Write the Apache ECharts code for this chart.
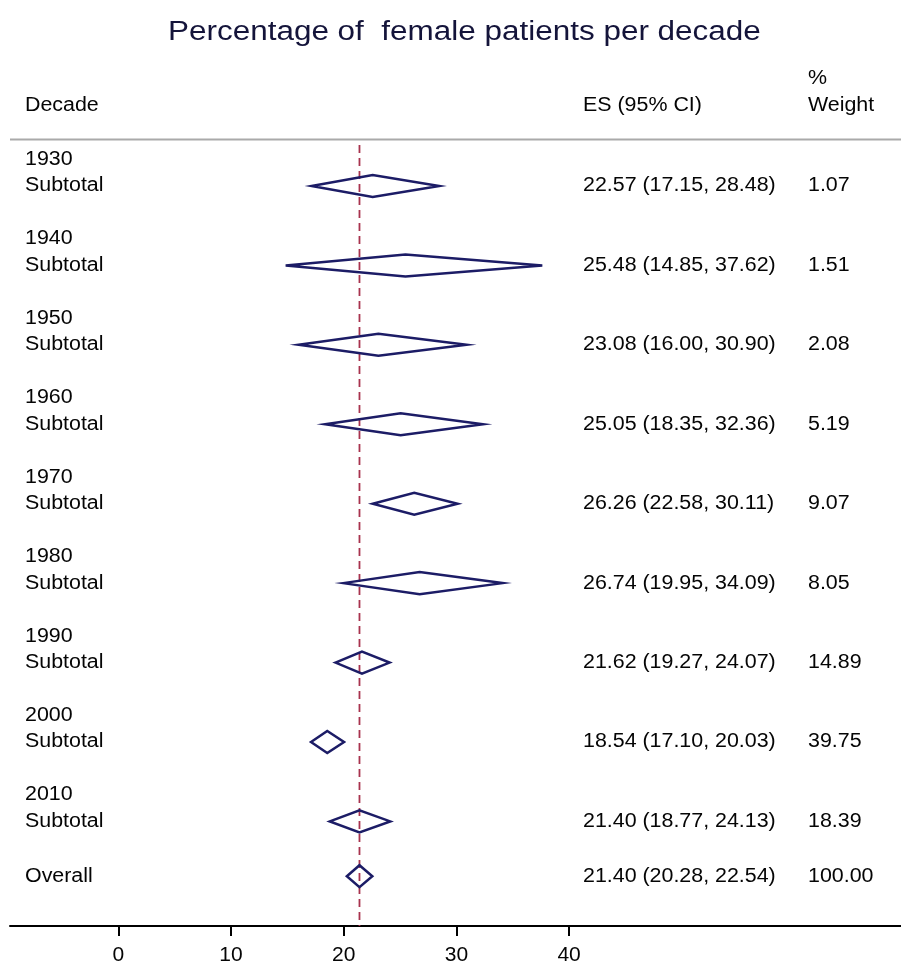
<!DOCTYPE html>
<html>
<head>
<meta charset="utf-8">
<script src="https://cdn.jsdelivr.net/npm/echarts@6/dist/echarts.min.js"></script>
<style>html,body{margin:0;padding:0;background:#fff;}#chart{width:901px;height:966px;}</style>
</head>
<body>
<div id="chart"></div>
<script>
const decades = ['1930','1940','1950','1960','1970','1980','1990','2000','2010'];
const es =    [22.57, 25.48, 23.08, 25.05, 26.26, 26.74, 21.62, 18.54, 21.40];
const lower = [17.15, 14.85, 16.00, 18.35, 22.58, 19.95, 19.27, 17.10, 18.77];
const upper = [28.48, 37.62, 30.90, 32.36, 30.11, 34.09, 24.07, 20.03, 24.13];
const weights = ['1.07','1.51','2.08','5.19','9.07','8.05','14.89','39.75','18.39'];
const overall = {label: 'Overall', es: 21.40, lower: 20.28, upper: 22.54, weight: '100.00'};
const tickValues = [0, 10, 20, 30, 40];
const titleText = 'Percentage of  female patients per decade';

const FONT = '"Liberation Sans", Arial, Helvetica, sans-serif';
const TXT = '#050505';
const NAVY = '#1c1c66';
const fmt = v => v.toFixed(2);

// rows: y in "line" units
const rows = decades.map((d, i) => ({
  year: d, label: 'Subtotal', es: es[i], lower: lower[i], upper: upper[i],
  weight: weights[i], y: 3 * i + 2
}));
rows.push({year: null, label: overall.label, es: overall.es, lower: overall.lower,
  upper: overall.upper, weight: overall.weight, y: 28.07});

const chart = echarts.init(document.getElementById('chart'), null, {renderer: 'canvas'});

const COL_LABEL = 25, COL_ES = 583, COL_W = 808;
const BODY_SIZE = 20;
const BODY_SCALE = 1.07;
const bodyFont = BODY_SIZE + 'px ' + FONT;

function headText(x, y, t) {
  return {type: 'text', x: x, y: y, scaleX: BODY_SCALE,
    style: {text: t, font: bodyFont, fill: TXT, verticalAlign: 'middle'}};
}

chart.setOption({
  animation: false,
  backgroundColor: '#ffffff',
  grid: {left: 10, right: 0, top: 133, bottom: 40},
  xAxis: {
    type: 'value', min: -9.61, max: 69.45, position: 'bottom',
    axisLine: {show: true, onZero: false, lineStyle: {color: '#000', width: 2}},
    axisTick: {show: true, customValues: tickValues, length: 10, lineStyle: {color: '#000', width: 2}},
    axisLabel: {show: true, customValues: tickValues, margin: 19, fontFamily: FONT, fontSize: 21, color: TXT},
    splitLine: {show: false}
  },
  yAxis: {
    type: 'value', min: 0, max: 29.95, inverse: true, show: false,
    splitLine: {show: false}
  },
  graphic: [
    {type: 'text', x: 168, y: 33, scaleX: 1.165,
     style: {text: titleText, font: '27px ' + FONT, fill: '#14143a', verticalAlign: 'middle'}},
    {type: 'line', shape: {x1: 10, y1: 139.5, x2: 901, y2: 139.5}, style: {stroke: '#aaaaaa', lineWidth: 2}},
    headText(COL_LABEL, 105, 'Decade'),
    headText(COL_ES, 105, 'ES (95% CI)'),
    headText(COL_W, 78, '%'),
    headText(COL_W, 105, 'Weight')
  ],
  series: [
    {
      type: 'line',
      data: [[overall.es, 0.45], [overall.es, 29.95]],
      symbol: 'none',
      lineStyle: {color: '#a8334e', width: 1.8, type: [8, 5]},
      z: 1
    },
    {
      type: 'custom',
      coordinateSystem: 'cartesian2d',
      clip: false,
      z: 3,
      data: rows.map(r => [r.lower, r.es, r.upper, r.y]),
      renderItem: function (params, api) {
        const r = rows[params.dataIndex];
        const pl = api.coord([r.lower, r.y]);
        const pc = api.coord([r.es, r.y]);
        const pu = api.coord([r.upper, r.y]);
        const yUp = api.coord([r.es, r.y - 1]);
        const h = 11;
        const yc = pc[1];
        const t = (x, y, s) => ({type: 'text', x: x, y: y, scaleX: BODY_SCALE,
          style: {text: s, font: bodyFont, fill: TXT, verticalAlign: 'middle'}});
        const children = [
          {type: 'polygon', shape: {points: [[pl[0], yc], [pc[0], yc - h], [pu[0], yc], [pc[0], yc + h]]},
           style: {fill: 'none', stroke: NAVY, lineWidth: 2.5, lineJoin: 'miter'}},
          t(COL_LABEL, yc, r.label),
          t(COL_ES, yc, fmt(r.es) + ' (' + fmt(r.lower) + ', ' + fmt(r.upper) + ')'),
          t(COL_W, yc, r.weight)
        ];
        if (r.year) children.push(t(COL_LABEL, yUp[1], r.year));
        return {type: 'group', children: children};
      }
    }
  ]
});
</script>
</body>
</html>
